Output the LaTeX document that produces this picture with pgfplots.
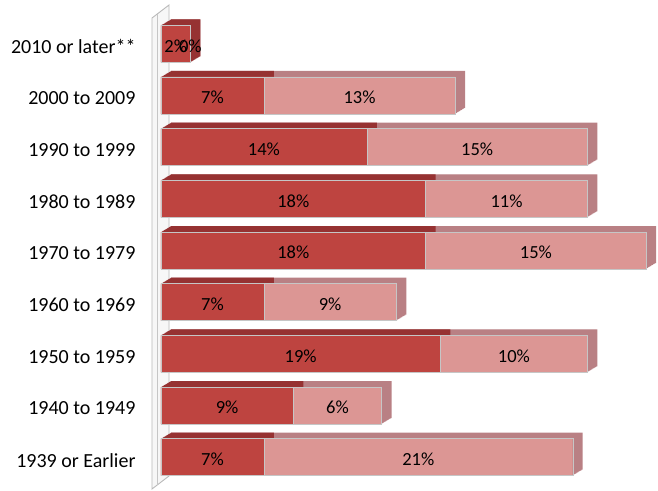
\documentclass[border=0pt]{standalone}
\usepackage{fontspec}
\setmainfont{Carlito}
\usepackage{pgfplots}
\usepackage{pgfplotstable}
\pgfplotsset{compat=1.18}
\definecolor{darkfront}{RGB}{190,68,64}
\definecolor{darktop}{RGB}{150,50,50}
\definecolor{lightfront}{RGB}{220,150,148}
\definecolor{lighttop}{RGB}{185,128,132}
\pgfplotstableread{
pos dark light total
0 7 21 28
1 9 6 15
2 19 10 29
3 7 9 16
4 18 15 33
5 18 11 29
6 14 15 29
7 7 13 20
8 2 0 2
}\data
\begin{document}
\begin{tikzpicture}
\useasboundingbox (-161pt,-7pt) rectangle (497pt,483pt);
% back wall
\fill[gray!6] (-9pt,-6pt) -- (-9pt,465pt) -- (8pt,478pt) -- (8pt,7pt) -- cycle;
\draw[gray!55, line width=0.9pt] (-9pt,-6pt) -- (-9pt,465pt) -- (8pt,478pt) -- (8pt,7pt) -- cycle;
\draw[gray!45, line width=0.7pt] (-4pt,-2pt) -- (-4pt,469pt);
\begin{axis}[
  at={(0,0)}, anchor=south west,
  scale only axis, width=497pt, height=465pt,
  xmin=0, xmax=33.8, ymin=-0.5, ymax=8.5,
  clip=false,
  /pgf/number format/assume math mode=true,
  axis lines=left, axis line style={draw=none},
  xtick=\empty,
  ytick={0,...,8},
  yticklabels={1939 or Earlier,1940 to 1949,1950 to 1959,1960 to 1969,1970 to 1979,1980 to 1989,1990 to 1999,2000 to 2009,2010 or later**},
  major tick length=0pt,
  tick label style={font=\fontsize{20}{24}\selectfont, text=black},
  yticklabel style={xshift=-22pt, yshift=-3pt},
]
% extrusion of whole bar
\pgfplotsinvokeforeach{1,...,10}{
  \addplot[xbar, bar shift=0pt, bar width=37pt, fill=lighttop, draw=none, xshift=#1pt, yshift={0.6pt*#1}, forget plot]
    table[x=total, y=pos] {\data};
}
% extrusion of dark part
\pgfplotsinvokeforeach{1,...,10}{
  \addplot[xbar, bar shift=0pt, bar width=37pt, fill=darktop, draw=none, xshift=#1pt, yshift={0.6pt*#1}, forget plot]
    table[x=dark, y=pos] {\data};
}
% front faces
\addplot[xbar, bar shift=0pt, bar width=37pt, fill=lightfront, draw=gray!45, line width=0.4pt]
  table[x=total, y=pos] {\data};
\addplot[xbar, bar shift=0pt, bar width=37pt, fill=darkfront, draw=gray!45, line width=0.4pt]
  table[x=dark, y=pos] {\data};
% labels
\addplot[draw=none, nodes near coords={\pgfmathprintnumber{\pgfplotspointmeta}\%},
  point meta=\thisrow{dark},
  every node near coord/.append style={anchor=center, font=\fontsize{18.5}{22}\selectfont, text=black, yshift=-2pt}]
  table[x expr=\thisrow{dark}/2, y=pos] {\data};
\addplot[draw=none, nodes near coords={\pgfmathprintnumber{\pgfplotspointmeta}\%},
  point meta=\thisrow{light},
  every node near coord/.append style={anchor=center, font=\fontsize{18.5}{22}\selectfont, text=black, yshift=-2pt}]
  table[x expr=\thisrow{dark}+\thisrow{light}/2, y=pos] {\data};
\end{axis}
\end{tikzpicture}
\end{document}
